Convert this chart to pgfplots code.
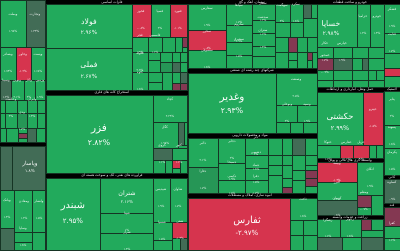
\documentclass[border=0pt]{standalone}
\usepackage{pgfplots}
\pgfplotsset{compat=1.18}
\usepackage{fontspec}
\TeXXeTstate=1
\newfontfamily\fa[Script=Arabic]{DejaVu Sans}
\newfontfamily\fd{DejaVu Sans}
\definecolor{g}{RGB}{34,170,92}
\definecolor{gm}{RGB}{38,150,86}
\definecolor{gd}{RGB}{66,108,86}
\definecolor{r}{RGB}{214,52,78}
\definecolor{rd}{RGB}{132,56,82}
\definecolor{bd}{RGB}{22,52,36}
\newcommand{\R}[5]{\addplot[fill=#5,draw=bd,line width=0.3pt] coordinates {(#1,#2) (#3,#2) (#3,#4) (#1,#4) (#1,#2)};}
\newcommand{\NM}[4]{\node[text=white,inner sep=0pt,font=\fa] at (axis cs:#1,#2) {\fontsize{#4}{#4}\selectfont #3};}
\newcommand{\PC}[4]{\node[text=white,inner sep=0pt,font=\fd] at (axis cs:#1,#2) {\fontsize{#4}{#4}\selectfont #3};}
\newcommand{\SL}[4]{\node[text=white,inner sep=0pt,align=center] at (axis cs:#1,#2) {\fa\fontsize{2.4}{3.0}\selectfont #3\\\fd\fontsize{2.1}{2.5}\selectfont #4};}
\newcommand{\HD}[3]{\node[text=white,inner sep=0pt,font=\fa] at (axis cs:#1,#2) {\fontsize{2.5}{3}\selectfont #3};}
\begin{document}
\begin{tikzpicture}
\begin{axis}[hide axis, scale only axis, width=10cm, height=6.25cm,
  xmin=0, xmax=400, ymin=0, ymax=250, y dir=reverse, no markers, clip=true]
\addplot[fill=black,draw=none] coordinates {(0,0) (400,0) (400,250) (0,250) (0,0)};
% ---- A: left top
\R{0}{0}{26}{47}{g}\R{26}{0}{45}{47}{gd}
\R{0}{47}{16}{80}{g}\R{16}{47}{31}{80}{r}\R{31}{47}{45}{80}{g}
\R{0}{80}{11}{100}{gd}\R{11}{80}{24}{100}{g}\R{24}{80}{35}{100}{g}\R{35}{80}{45}{100}{g}
\R{0}{100}{5}{113}{g}\R{5}{100}{17}{113}{g}\R{17}{100}{27}{113}{g}\R{27}{100}{37}{113}{g}\R{37}{100}{45}{113}{g}
\R{0}{113}{5}{128}{g}\R{5}{113}{17}{128}{g}\R{17}{113}{27}{128}{gm}\R{27}{113}{37}{128}{g}\R{37}{113}{45}{128}{g}
\R{0}{128}{6}{142}{g}\R{6}{128}{18}{142}{g}\R{18}{128}{27}{133}{g}\R{18}{133}{27}{138}{rd}\R{18}{138}{27}{142}{g}\R{27}{128}{36}{142}{gd}\R{36}{128}{45}{142}{g}
% ---- E: left bottom
\R{0}{146}{12}{190}{gd}\R{12}{146}{45}{190}{gd}
\R{0}{190}{14}{228}{g}\R{14}{190}{32}{232}{g}\R{32}{190}{45}{232}{g}
\R{0}{228}{14}{250}{gd}\R{14}{232}{32}{242}{g}\R{14}{242}{32}{250}{g}\R{32}{232}{45}{250}{g}
% ---- B: basic metals
\R{46}{4}{132}{48}{g}\R{46}{48}{132}{90}{g}
\R{132}{4}{151}{37}{r}\R{151}{4}{170}{37}{g}\R{170}{4}{187}{37}{r}
\R{132}{37}{148}{52}{g}\R{148}{37}{162}{52}{g}\R{162}{37}{175}{52}{g}\R{175}{37}{182}{52}{g}\R{182}{37}{187}{47}{rd}\R{182}{47}{187}{52}{g}
\R{132}{52}{148}{72}{g}\R{148}{52}{160}{60}{g}\R{148}{60}{160}{72}{g}\R{160}{52}{172}{62}{g}\R{160}{62}{172}{72}{gm}\R{172}{52}{180}{62}{g}\R{180}{52}{187}{62}{g}\R{172}{62}{180}{72}{gd}\R{180}{62}{187}{72}{g}
\R{132}{72}{148}{90}{g}\R{148}{72}{162}{82}{g}\R{148}{82}{162}{90}{g}\R{162}{72}{172}{90}{g}\R{172}{72}{180}{83}{g}\R{172}{83}{180}{90}{rd}\R{180}{72}{187}{83}{gd}\R{180}{83}{187}{90}{rd}
% ---- C
\R{46}{95}{153}{173}{g}
\R{153}{95}{187}{122}{g}\R{153}{122}{178}{148}{g}\R{178}{122}{184}{145}{gd}\R{184}{122}{187}{145}{g}\R{178}{145}{187}{148}{g}
\R{153}{148}{172}{160}{gd}\R{172}{148}{187}{160}{g}\R{153}{160}{165}{173}{g}\R{165}{160}{172}{173}{g}\R{172}{160}{180}{168}{r}\R{172}{168}{180}{173}{g}\R{180}{160}{187}{173}{g}
% ---- D
\R{46}{178}{100}{250}{g}\R{100}{178}{153}{213}{g}\R{100}{213}{153}{233}{g}\R{100}{233}{153}{250}{g}
\R{153}{178}{170}{222}{g}\R{170}{178}{187}{222}{g}\R{153}{222}{172}{240}{g}\R{172}{222}{187}{238}{r}
\R{153}{240}{172}{250}{g}\R{172}{238}{180}{250}{g}\R{180}{238}{187}{250}{gd}
% ---- F: cement
\R{188}{4}{226}{30}{g}\R{188}{30}{226}{50}{r}\R{188}{50}{226}{68}{g}
\R{226}{4}{252}{25}{g}\R{226}{25}{252}{42}{g}\R{226}{42}{252}{55}{g}\R{226}{55}{252}{68}{g}
\R{252}{4}{275}{20}{g}\R{252}{20}{275}{33}{g}\R{252}{33}{275}{46}{g}\R{252}{46}{275}{56}{g}\R{252}{56}{275}{68}{g}
\R{275}{4}{290}{22}{g}\R{290}{4}{303}{22}{g}\R{303}{4}{311}{18}{gd}\R{311}{4}{317}{18}{g}
\R{275}{22}{290}{37}{g}\R{290}{22}{303}{37}{g}\R{303}{18}{317}{37}{g}
\R{275}{37}{288}{52}{g}\R{288}{37}{297}{52}{rd}\R{297}{37}{307}{52}{g}\R{307}{37}{317}{52}{g}
\R{275}{52}{288}{68}{g}\R{288}{52}{297}{60}{g}\R{288}{60}{297}{68}{g}\R{297}{52}{307}{68}{g}\R{307}{52}{312}{60}{rd}\R{307}{60}{312}{68}{g}\R{312}{52}{317}{68}{g}
% ---- G
\R{188}{73}{276}{133}{g}
\R{276}{73}{317}{105}{g}\R{276}{105}{297}{122}{g}\R{297}{105}{317}{122}{g}
\R{276}{122}{290}{133}{g}\R{290}{122}{303}{133}{g}\R{303}{122}{317}{133}{g}
% ---- H
\R{188}{138}{218}{167}{g}\R{188}{167}{218}{193}{gm}
\R{218}{138}{245}{163}{g}\R{218}{163}{245}{180}{g}\R{218}{180}{245}{193}{g}
\R{245}{138}{268}{155}{g}\R{245}{155}{268}{168}{g}\R{245}{168}{268}{180}{g}\R{245}{180}{268}{193}{g}
\R{268}{138}{282}{155}{g}\R{282}{138}{292}{155}{g}\R{292}{138}{305}{155}{gd}\R{305}{138}{317}{155}{g}
\R{268}{155}{282}{165}{g}\R{282}{155}{292}{165}{g}\R{292}{155}{305}{170}{g}\R{305}{155}{317}{165}{g}
\R{268}{165}{282}{175}{g}\R{282}{165}{292}{178}{g}\R{305}{165}{317}{170}{g}
\R{292}{170}{305}{180}{g}\R{305}{170}{317}{178}{rd}\R{305}{178}{317}{186}{rd}\R{292}{180}{305}{193}{g}\R{305}{186}{317}{193}{g}
\R{282}{178}{292}{187}{g}\R{282}{187}{292}{193}{rd}\R{268}{175}{282}{193}{g}
% ---- I
\R{188}{198}{290}{250}{r}
\R{290}{198}{317}{220}{g}\R{290}{220}{303}{235}{g}\R{303}{220}{317}{235}{g}\R{290}{235}{303}{250}{g}\R{303}{235}{317}{250}{g}
% ---- J1
\R{317}{4}{357}{47}{g}\R{357}{4}{370}{47}{g}\R{370}{4}{384}{47}{g}
\R{317}{47}{333}{58}{g}\R{333}{47}{352}{58}{g}\R{352}{47}{368}{58}{g}\R{368}{47}{384}{58}{g}
\R{317}{58}{333}{70}{rd}\R{333}{58}{352}{70}{gd}\R{352}{58}{362}{70}{g}\R{362}{58}{368}{70}{gd}\R{368}{58}{384}{70}{g}
\R{317}{70}{333}{80}{g}\R{333}{70}{352}{80}{g}\R{352}{70}{368}{80}{g}\R{368}{70}{376}{80}{g}\R{376}{70}{384}{80}{g}
\R{317}{80}{333}{87}{g}\R{333}{80}{352}{87}{g}\R{352}{80}{368}{87}{g}\R{368}{80}{384}{87}{g}
% ---- J2
\R{317}{92}{363}{145}{g}\R{363}{92}{383}{145}{r}
\R{317}{145}{340}{158}{g}\R{340}{145}{353}{158}{r}\R{353}{145}{369}{158}{r}\R{369}{145}{376}{158}{g}\R{376}{145}{383}{158}{g}
% ---- J3
\R{317}{162}{357}{182}{r}\R{357}{162}{383}{195}{g}\R{317}{182}{357}{200}{g}\R{317}{200}{357}{215}{gd}
\R{357}{195}{371}{207}{rd}\R{357}{207}{371}{215}{g}\R{371}{195}{383}{215}{g}
% ---- J4
\R{317}{219}{340}{237}{g}\R{340}{219}{361}{237}{g}\R{361}{219}{371}{230}{rd}\R{371}{219}{383}{230}{g}\R{361}{230}{383}{237}{g}
\R{317}{237}{342}{250}{gd}\R{342}{237}{361}{250}{g}\R{361}{237}{383}{250}{gd}
% ---- K right column
\R{384}{4}{400}{33}{g}\R{384}{33}{400}{53}{g}\R{384}{53}{400}{68}{g}\R{384}{68}{400}{76}{r}\R{384}{76}{400}{87}{g}
\R{384}{91}{400}{125}{g}\R{384}{125}{400}{148}{g}\R{384}{148}{400}{175}{g}
\R{384}{179}{400}{203}{gd}
\R{384}{207}{400}{226}{rd}\R{384}{226}{400}{238}{g}\R{384}{238}{400}{250}{g}
% ---- headers
\HD{112}{2.2}{\beginR فلزات اساسی\endR}
\HD{112}{92.6}{\beginR استخراج کانه های فلزی\endR}
\HD{112}{175.6}{\beginR فراورده های نفتی، کک و سوخت هسته ای\endR}
\HD{252}{2.2}{\beginR سیمان، آهک و گچ\endR}
\HD{252}{70.6}{\beginR شرکتهای چند رشته ای صنعتی\endR}
\HD{250}{135.6}{\beginR مواد و محصولات دارویی\endR}
\HD{250}{195.8}{\beginR انبوه سازی، املاک و مستغلات\endR}
\HD{350}{2.2}{\beginR خودرو و ساخت قطعات\endR}
\HD{350}{89.6}{\beginR حمل ونقل، انبارداری و ارتباطات\endR}
\HD{350}{160.4}{\beginR واسطه گری های مالی و پولی\endR}
\HD{350}{217.2}{\beginR زراعت و خدمات وابسته\endR}
\HD{392}{89.2}{\beginR لاستیک\endR}
\HD{392}{177.2}{\beginR کانی\endR}
\HD{392}{205.2}{\beginR قند\endR}
% ---- big labels
\NM{89}{22}{\beginR فولاد\endR}{5.5}\PC{89}{32}{۲.۹۶\%}{4}
\NM{89}{65}{\beginR فملی\endR}{5.5}\PC{89}{76}{۲.۶۷\%}{4}
\NM{99}{129}{\beginR فزر\endR}{7.5}\PC{99}{143}{۲.۸۲\%}{5.5}
\NM{73}{207}{\beginR شبندر\endR}{7}\PC{73}{221}{۲.۹۵\%}{5}
\NM{127}{194}{\beginR شتران\endR}{4.5}\PC{127}{202}{۲.۱۶\%}{3}
\NM{232}{98}{\beginR وغدیر\endR}{7.5}\PC{232}{111}{۲.۹۳\%}{5.5}
\NM{247}{221}{\beginR ثفارس\endR}{7}\PC{247}{233}{-۲.۹۷\%}{5}
\NM{331}{24}{\beginR خساپا\endR}{5.5}\PC{331}{33}{۲.۹۸\%}{4}
\NM{340}{117}{\beginR حکشتی\endR}{6}\PC{340}{128}{۲.۹۹\%}{4.5}
\NM{30}{164}{\beginR وپاسار\endR}{4}\PC{30}{171}{۱.۸\%}{3}
% ---- small labels
\SL{13}{23}{\beginR وبملت\endR}{۱.۹۸\%}\SL{35}{23}{\beginR وتجارت\endR}{۱.۴۳\%}
\SL{8}{63}{\beginR وبصادر\endR}{۱.۷۴\%}\SL{23}{63}{\beginR وخاور\endR}{-۱.۲\%}\SL{38}{63}{\beginR وپست\endR}{۱.۶۸\%}
\SL{6}{89}{\beginR وسینا\endR}{۱.۲\%}\SL{17}{89}{\beginR ونوین\endR}{۲.۱\%}\SL{29}{89}{\beginR وکار\endR}{۲\%}\SL{40}{89}{\beginR وزمین\endR}{۱.۹\%}
\SL{11}{108}{\beginR وحکمت\endR}{۲\%}\SL{22}{121}{\beginR ودی\endR}{۱.۷\%}\SL{32}{108}{\beginR وایران\endR}{۱.۳\%}
\SL{24}{210}{\beginR ومعادن\endR}{۱.۲\%}\SL{39}{210}{\beginR وانصار\endR}{۱.۵\%}\SL{7}{209}{\beginR وبانک\endR}{۱.۴\%}
\SL{23}{237}{\beginR وساپا\endR}{۱.۸\%}
\SL{141}{20}{\beginR فخوز\endR}{-۰.۸\%}\SL{160}{20}{\beginR فسپا\endR}{۲\%}\SL{178}{20}{\beginR فنورد\endR}{-۱.۱\%}
\SL{140}{44}{\beginR فجر\endR}{۱.۹\%}\SL{155}{44}{\beginR فاسمین\endR}{۱.۶\%}\SL{140}{62}{\beginR فلوله\endR}{۲.۲\%}\SL{140}{81}{\beginR کاوه\endR}{۱.۸\%}
\SL{170}{108}{\beginR کچاد\endR}{۲.۲۹\%}\SL{165}{135}{\beginR کگل\endR}{۱.۹۸\%}\SL{162}{154}{\beginR کروی\endR}{۱.۱\%}\SL{179}{154}{\beginR کنور\endR}{۱.۶\%}
\SL{127}{222}{\beginR شپنا\endR}{۱\%}\SL{127}{241}{\beginR شراز\endR}{۱.۴\%}
\SL{161}{198}{\beginR شپدیس\endR}{۱.۹\%}\SL{178}{198}{\beginR شاوان\endR}{۱.۷\%}\SL{162}{231}{\beginR شسپا\endR}{۱.۵\%}\SL{180}{230}{\beginR شفن\endR}{-۱.۳\%}
\SL{207}{17}{\beginR سفارس\endR}{۱.۹\%}\SL{207}{40}{\beginR سخزر\endR}{-۰.۸\%}\SL{207}{59}{\beginR سصوفی\endR}{۱.۸\%}
\SL{239}{14}{\beginR سپاها\endR}{۱.۷\%}\SL{239}{33}{\beginR ساروم\endR}{۱.۹\%}\SL{239}{48}{\beginR سشرق\endR}{۱.۵\%}
\SL{263}{12}{\beginR سفار\endR}{۱.۲\%}\SL{263}{26}{\beginR سدشت\endR}{۱.۶\%}\SL{263}{39}{\beginR ستران\endR}{۱.۴\%}
\SL{282}{13}{\beginR سهگمت\endR}{۲\%}\SL{296}{13}{\beginR سکرد\endR}{۱.۸\%}
\SL{296}{88}{\beginR وصنعت\endR}{۲.۵\%}\SL{287}{113}{\beginR وبوعلی\endR}{۲\%}\SL{307}{113}{\beginR وسپه\endR}{۱.۹\%}
\SL{203}{152}{\beginR دالبر\endR}{۲.۱\%}\SL{203}{180}{\beginR دفارا\endR}{۱.۷\%}\SL{232}{150}{\beginR دجابر\endR}{۲\%}\SL{232}{171}{\beginR دسبحا\endR}{۱.۹\%}
\SL{232}{185}{\beginR دکیمی\endR}{۱.۶\%}\SL{256}{146}{\beginR دلر\endR}{۲\%}\SL{256}{161}{\beginR دشیمی\endR}{۱.۸\%}\SL{256}{174}{\beginR دتماد\endR}{۱.۵\%}\SL{256}{185}{\beginR دفرا\endR}{۱.۷\%}
\SL{303}{208}{\beginR ثاخت\endR}{۱.۸\%}
\SL{363}{25}{\beginR خزامیا\endR}{۱.۲\%}\SL{377}{25}{\beginR خودرو\endR}{۱.۳\%}
\SL{325}{52}{\beginR خکار\endR}{۱.۷\%}\SL{342}{52}{\beginR خپارس\endR}{۱.۹\%}\SL{325}{64}{\beginR خمحور\endR}{-۰.۹\%}
\SL{373}{118}{\beginR حپترو\endR}{-۱.۵\%}\SL{328}{150.5}{\beginR حتوکا\endR}{۱.۶\%}\SL{346.5}{150.5}{\beginR حفارس\endR}{-۱.۱\%}\SL{361}{150.5}{\beginR حریل\endR}{-۱\%}
\SL{337}{172}{\beginR وبیمه\endR}{-۱.۴\%}\SL{370}{178}{\beginR اتکای\endR}{۱.۹\%}\SL{337}{191}{\beginR البرز\endR}{۱.۶\%}\SL{337}{207}{\beginR کرمان\endR}{۰.۸\%}\SL{364}{201}{\beginR ومعلم\endR}{-۰.۷\%}
\SL{328}{228}{\beginR زشگزا\endR}{۱.۶\%}\SL{350}{228}{\beginR زکوثر\endR}{۱.۸\%}
\SL{392}{18}{\beginR قشکر\endR}{۱.۹\%}\SL{392}{43}{\beginR قثابت\endR}{۱.۷\%}\SL{392}{108}{\beginR پتایر\endR}{۲\%}\SL{392}{136}{\beginR پسهند\endR}{۱.۸\%}
\SL{392}{161}{\beginR پکرمان\endR}{۱.۵\%}\SL{392}{191}{\beginR کساوه\endR}{۰.۹\%}\SL{392}{232}{\beginR کفرا\endR}{۱.۶\%}
\end{axis}
\end{tikzpicture}
\end{document}
